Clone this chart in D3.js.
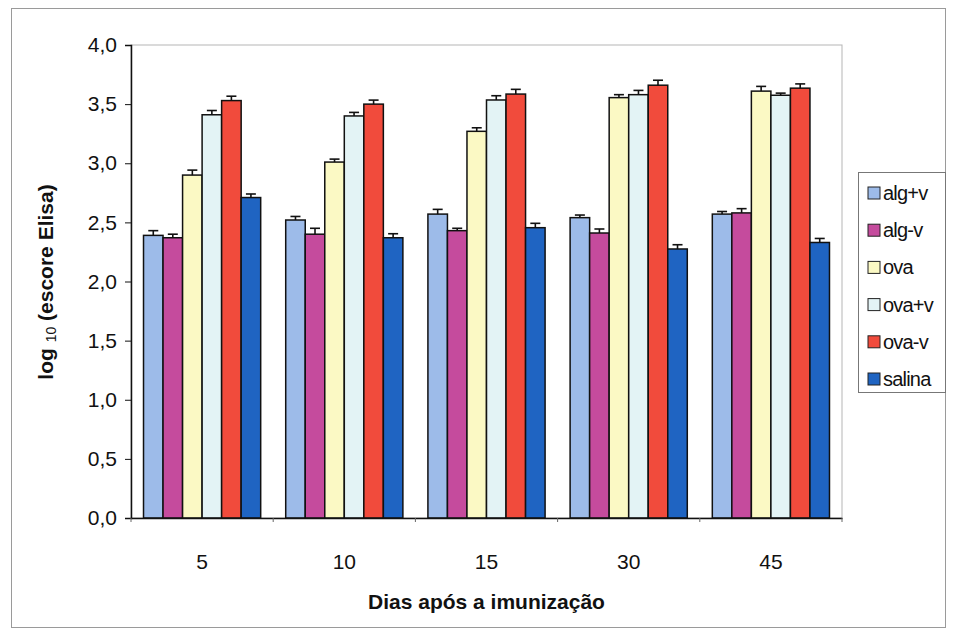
<!DOCTYPE html>
<html>
<head>
<meta charset="utf-8">
<script src="https://cdn.jsdelivr.net/npm/d3@7"></script>
<style>
  html, body { margin: 0; padding: 0; background: #ffffff; }
  svg { display: block; font-family: Arial, "Liberation Sans", sans-serif; }
</style>
</head>
<body>
<svg id="chart" width="954" height="634"></svg>
<script>
// Days after immunization (x categories)
const days = ["5", "10", "15", "30", "45"];
// Groups shown as bars in each day cluster
const groups = ["alg+v", "alg-v", "ova", "ova+v", "ova-v", "salina"];
const groupColors = ["#9dbbe9", "#c54b9d", "#fbf9c4", "#e3f3f5", "#f14b3c", "#1f64c2"];

// log10 ELISA score, one array per group (ordered by day)
const algPlusV  = [2.39, 2.52, 2.57, 2.54, 2.57];
const algMinusV = [2.37, 2.40, 2.43, 2.41, 2.58];
const ova       = [2.90, 3.01, 3.27, 3.555, 3.61];
const ovaPlusV  = [3.41, 3.40, 3.535, 3.58, 3.575];
const ovaMinusV = [3.53, 3.50, 3.585, 3.66, 3.635];
const salina    = [2.71, 2.37, 2.455, 2.275, 2.33];

// Standard error (upper error bar only)
const errAlgPlusV  = [0.04, 0.03, 0.04, 0.022, 0.022];
const errAlgMinusV = [0.03, 0.05, 0.02, 0.034, 0.036];
const errOva       = [0.042, 0.025, 0.03, 0.025, 0.04];
const errOvaPlusV  = [0.036, 0.03, 0.036, 0.036, 0.018];
const errOvaMinusV = [0.037, 0.034, 0.04, 0.042, 0.036];
const errSalina    = [0.03, 0.034, 0.037, 0.036, 0.034];

const yTicks = [0, 0.5, 1.0, 1.5, 2.0, 2.5, 3.0, 3.5, 4.0];

const seriesValues = [algPlusV, algMinusV, ova, ovaPlusV, ovaMinusV, salina];
const seriesErrors = [errAlgPlusV, errAlgMinusV, errOva, errOvaPlusV, errOvaMinusV, errSalina];

const svg = d3.select("#chart");

// Plot area
const plot = { left: 131, right: 842, top: 45, bottom: 518 };

const x0 = d3.scaleBand()
  .domain(days)
  .range([plot.left, plot.right])
  .paddingInner(0.176)
  .paddingOuter(0.088);

const x1 = d3.scaleBand()
  .domain(groups)
  .range([0, x0.bandwidth()])
  .padding(0);

const y = d3.scaleLinear()
  .domain([0, 4])
  .range([plot.bottom, plot.top]);

const fmt = d => d3.format(".1f")(d).replace(".", ",");

// Outer chart frame
svg.append("rect")
  .attr("x", 11.5).attr("y", 8.5)
  .attr("width", 934).attr("height", 619)
  .attr("fill", "none")
  .attr("stroke", "#9a9a9a")
  .attr("stroke-width", 1);

// Plot area border
svg.append("rect")
  .attr("x", plot.left).attr("y", plot.top)
  .attr("width", plot.right - plot.left).attr("height", plot.bottom - plot.top)
  .attr("fill", "none")
  .attr("stroke", "#b5b5b5")
  .attr("stroke-width", 1);

// Bars
const rows = days.map((d, i) => ({
  day: d,
  items: groups.map((g, j) => ({ group: g, value: seriesValues[j][i], err: seriesErrors[j][i], color: groupColors[j] }))
}));

const cluster = svg.append("g").selectAll("g")
  .data(rows)
  .join("g")
  .attr("transform", d => `translate(${x0(d.day)},0)`);

cluster.selectAll("rect")
  .data(d => d.items)
  .join("rect")
  .attr("x", d => x1(d.group))
  .attr("y", d => y(d.value))
  .attr("width", x1.bandwidth())
  .attr("height", d => y(0) - y(d.value))
  .attr("fill", d => d.color)
  .attr("stroke", "#111")
  .attr("stroke-width", 1.5);

// Upper error bars
const eb = cluster.selectAll("g.err")
  .data(d => d.items)
  .join("g")
  .attr("class", "err")
  .attr("stroke", "#111")
  .attr("stroke-width", 1.6);

eb.append("line")
  .attr("x1", d => x1(d.group) + x1.bandwidth() / 2)
  .attr("x2", d => x1(d.group) + x1.bandwidth() / 2)
  .attr("y1", d => y(d.value))
  .attr("y2", d => y(d.value + d.err));

eb.append("line")
  .attr("x1", d => x1(d.group) + x1.bandwidth() / 2 - 5)
  .attr("x2", d => x1(d.group) + x1.bandwidth() / 2 + 5)
  .attr("y1", d => y(d.value + d.err))
  .attr("y2", d => y(d.value + d.err));

// Y axis
const yAxis = svg.append("g")
  .attr("transform", `translate(${plot.left},0)`)
  .call(d3.axisLeft(y).tickValues(yTicks).tickFormat(fmt).tickSize(6).tickPadding(8));
yAxis.select(".domain").attr("stroke", "#111").attr("stroke-width", 1.5);
yAxis.selectAll(".tick line").attr("stroke", "#111");
yAxis.selectAll(".tick text")
  .attr("font-size", 21)
  .attr("fill", "#111")
  .attr("font-family", "Arial, 'Liberation Sans', sans-serif");

// X axis
const xAxis = svg.append("g")
  .attr("transform", `translate(0,${plot.bottom})`)
  .call(d3.axisBottom(x0).tickSize(0).tickPadding(36));
xAxis.select(".domain").attr("stroke", "#111").attr("stroke-width", 1.5);
xAxis.selectAll(".tick text")
  .attr("font-size", 21)
  .attr("fill", "#111")
  .attr("font-family", "Arial, 'Liberation Sans', sans-serif");

// Small category separators on the x axis
const step = x0.step();
const seps = d3.range(days.length + 1).map(i => plot.left + i * step);
svg.append("g").selectAll("line")
  .data(seps)
  .join("line")
  .attr("x1", d => d).attr("x2", d => d)
  .attr("y1", plot.bottom).attr("y2", plot.bottom + 4)
  .attr("stroke", "#666")
  .attr("stroke-width", 1);

// X axis title
svg.append("text")
  .attr("x", (plot.left + plot.right) / 2)
  .attr("y", 609)
  .attr("text-anchor", "middle")
  .attr("font-size", 21)
  .attr("font-weight", "bold")
  .attr("fill", "#111")
  .text("Dias após a imunização");

// Y axis title with subscript base
const yTitle = svg.append("text")
  .attr("transform", "translate(53,282) rotate(-90)")
  .attr("text-anchor", "middle")
  .attr("font-size", 21)
  .attr("font-weight", "bold")
  .attr("fill", "#111");
yTitle.append("tspan").text("log ");
yTitle.append("tspan").attr("font-size", 14).attr("font-weight", "normal").attr("dy", 3).text("10");
yTitle.append("tspan").attr("dy", -3).text(" (escore Elisa)");

// Legend
const legend = svg.append("g");
legend.append("rect")
  .attr("x", 858.5).attr("y", 172.5)
  .attr("width", 87).attr("height", 220)
  .attr("fill", "#fff")
  .attr("stroke", "#777")
  .attr("stroke-width", 1);

const li = legend.selectAll("g.item")
  .data(groups)
  .join("g")
  .attr("class", "item")
  .attr("transform", (d, i) => `translate(868,${193 + i * 37.2})`);

li.append("rect")
  .attr("x", 0).attr("y", -6)
  .attr("width", 12).attr("height", 12)
  .attr("fill", (d, i) => groupColors[i])
  .attr("stroke", "#222")
  .attr("stroke-width", 1);

li.append("text")
  .attr("x", 15)
  .attr("y", 0)
  .attr("dy", "0.35em")
  .attr("font-size", 20)
  .attr("letter-spacing", -0.8)
  .attr("fill", "#111")
  .text(d => d);
</script>
</body>
</html>
